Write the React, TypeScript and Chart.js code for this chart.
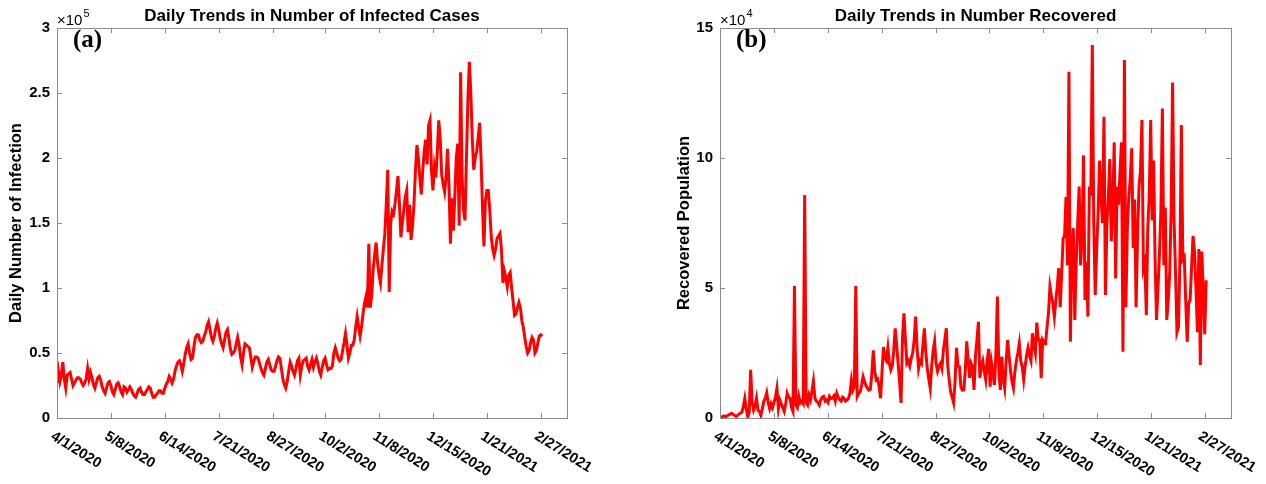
import React, { useEffect, useRef } from 'react';
import { Chart, registerables } from 'chart.js';

Chart.register(...registerables);

// Day 0 of both series
const startDate = '2020-04-01';

// Date ticks on the x axis
const tickDates = [
  '2020-04-01', '2020-05-08', '2020-06-14', '2020-07-21', '2020-08-27',
  '2020-10-02', '2020-11-08', '2020-12-15', '2021-01-21', '2021-02-27',
];
const xMaxDay = 350;

// Daily new infections, in thousands (day 0 = 4/1/2020)
const infectedThousands = [
  27, 36, 28, 33, 43, 30, 23, 33, 34, 35, 30,
  25, 27, 29, 31, 31, 30, 27, 25, 27, 30,
  38, 30, 35, 31, 26, 23, 27, 31, 32, 29,
  24, 21, 19, 23, 27, 28, 25, 20, 18, 22,
  26, 27, 24, 20, 18, 24, 23, 20, 22, 24,
  22, 19, 17, 16, 19, 22, 23, 20, 18, 18,
  20, 22, 24, 23, 19, 16, 16, 18, 19, 21,
  21, 19, 19, 23, 26, 28, 32, 30, 27, 30,
  36, 40, 43, 44, 41, 36, 42, 49, 54, 57,
  50, 45, 46, 55, 62, 64, 64, 60, 58, 59,
  63, 66, 71, 74, 68, 62, 59, 63, 69, 73,
  68, 61, 57, 54, 60, 66, 68, 61, 53, 49,
  50, 52, 57, 62, 56, 47, 41, 50, 57, 56,
  55, 54, 47, 39, 43, 47, 47, 46, 42, 38,
  35, 33, 38, 43, 45, 41, 37, 36, 36, 40,
  44, 47, 46, 38, 30, 26, 23, 28, 36, 43,
  40, 36, 33, 38, 44, 46, 33, 40, 44, 45,
  46, 40, 37, 41, 45, 39, 43, 46, 42, 36,
  33, 39, 44, 46, 41, 37, 38, 38, 40, 50,
  54, 50, 46, 44, 45, 52, 58, 65, 56, 46,
  50, 56, 56, 60, 70, 78, 70, 63, 70, 80,
  88, 93, 85, 134, 85, 95, 115, 125, 135, 120,
  110, 104, 118, 130, 142, 165, 191, 97, 150, 159,
  157, 165, 175, 186, 165, 139, 150, 160, 170, 175,
  143, 164, 137, 148, 165, 190, 210, 200, 185, 172,
  190, 205, 214, 195, 225, 229, 190, 175, 193, 185,
  205, 229, 215, 187, 180, 174, 185, 207, 180, 134,
  169, 144, 170, 200, 211, 148, 266, 185, 160, 152,
  200, 245, 274, 250, 215, 191, 200, 205, 215, 227,
  200, 162, 132, 167, 175, 175, 160, 140, 130, 125,
  130, 138, 140, 142, 130, 104, 113, 108, 101, 110,
  112, 100, 90, 79, 80, 85, 89, 85, 75, 70,
  62, 55, 50, 52, 58, 62, 60, 50, 52, 58,
  63, 64, 63,
];

// Daily recoveries, in thousands (day 0 = 4/1/2020)
const recoveredThousands = [
  0.5, 0.3, 0.6, 0.8, 0.5, 0.9, 1.2, 1.5, 1.8, 1.4, 1.0,
  0.6, 1.0, 1.5, 1.9, 2.2, 4.5, 7.6, 3.5, 0.5, 2.0,
  18.5, 6.0, 3.0, 4.5, 7.6, 3.0, 2.5, 1.0, 3.5, 6.4,
  7.5, 9.7, 6.0, 3.6, 5.5, 4.0, 6.0, 8.0, 11.4, 3.6,
  6.9, 5.5, 4.0, 2.5, 5.5, 9.5, 8.0, 7.6, 4.0, 2.5,
  50.8, 5.0, 4.0, 8.3, 5.8, 6.5, 5.5, 85.8, 6.0, 5.0,
  8.8, 7.0, 10.5, 14.2, 7.6, 6.5, 6.0, 5.0, 7.0, 8.0,
  8.3, 6.5, 7.0, 6.0, 8.3, 7.5, 7.6, 8.5, 6.5, 9.5,
  8.0, 7.0, 6.5, 8.0, 7.6, 6.5, 7.0, 7.5, 9.5, 14.6,
  10.7, 12.0, 50.8, 8.3, 9.5, 10.0, 12.5, 15.9, 14.0, 12.5,
  11.5, 10.7, 11.0, 17.0, 26.0, 18.0, 14.6, 15.0, 12.0, 7.6,
  18.0, 27.3, 23.0, 22.0, 27.0, 21.0, 18.5, 20.0, 26.0, 34.5,
  28.0, 21.0, 14.0, 5.8, 30.7, 40.3, 30.0, 21.0, 22.0, 20.0,
  23.0, 25.0, 30.0, 39.0, 27.0, 19.0, 22.0, 21.0, 28.0, 34.5,
  25.0, 19.0, 15.0, 11.4, 20.0, 26.0, 29.5, 21.0, 18.0, 20.0,
  21.0, 19.0, 26.0, 30.0, 34.5, 20.0, 14.6, 10.0, 8.0, 5.8,
  14, 27, 20, 19.7, 12, 10.7, 10.8, 18, 29.5, 22,
  15.4, 21, 19.7, 10.8, 24, 30, 37, 15.4, 20, 22,
  18, 14.7, 22, 26.6, 12, 21, 17, 12.7, 25, 46.7,
  18, 10.8, 23.6, 15, 11.5, 22, 30, 24, 18, 14,
  11.5, 18, 22, 25, 28.7, 22, 19.7, 14.7, 20, 24,
  27, 24, 22, 32.6, 28, 24.9, 36.7, 30, 30, 15.3,
  30, 29, 28.7, 35, 40.4, 50.5, 47, 44, 39, 45,
  50.5, 57.6, 42.6, 55, 69, 70, 85, 58.8, 133.2, 29.3,
  64, 73, 37.7, 60, 75, 89, 58.8, 70, 101, 45.4,
  60, 39, 89, 85.6, 143.5, 74.9, 47.3, 65, 79, 99,
  85, 74.9, 115.9, 47.3, 74.9, 85, 99.6, 68, 80, 106,
  53.7, 89, 82, 95, 106, 25.5, 137.7, 42.6, 73, 85,
  92, 103.7, 65.4, 84, 42.6, 70, 89, 95, 114.6, 57.6,
  60, 39.6, 73, 85, 114.6, 76, 99, 61, 37.7, 50,
  63, 80, 119, 58.8, 81, 37.7, 45, 55.6, 80, 129,
  76, 56, 33, 35, 60, 112.7, 61, 62, 45, 29.3,
  44, 45.4, 58, 70, 64, 50, 33, 65, 20.4, 64,
  48.7, 32.2, 53,
];

// Y-axis ticks (values) and their labels (shown with a power-of-ten multiplier)
const infectedTicks = [0, 50000, 100000, 150000, 200000, 250000, 300000];
const infectedTickLabels = ['0', '0.5', '1', '1.5', '2', '2.5', '3'];
const recoveredTicks = [0, 50000, 100000, 150000];
const recoveredTickLabels = ['0', '5', '10', '15'];

const SANS = '"Liberation Sans", Arial, Helvetica, sans-serif';
const SERIF = '"Liberation Serif", "Times New Roman", serif';
const AXIS_COLOR = '#8c8c8c';
const LINE_COLOR = '#ff0000';

const dayOf = (iso: string) =>
  Math.round((Date.parse(iso) - Date.parse(startDate)) / 86400000);
const dateLabel = (iso: string) => {
  const [y, m, d] = iso.split('-').map(Number);
  return `${m}/${d}/${y}`;
};

// MATLAB-style box axes: inward ticks on all sides, rotated date labels,
// title, y label, exponent and panel tag.
const boxAxes = {
  id: 'boxAxes',
  afterDraw(chart: any, _args: any, opts: any) {
    const { ctx, chartArea: a } = chart;
    const xs = chart.scales.x;
    const ys = chart.scales.y;
    ctx.save();

    ctx.strokeStyle = AXIS_COLOR;
    ctx.lineWidth = 1;
    ctx.beginPath();
    const tl = 5;
    for (const iso of tickDates) {
      const px = Math.round(xs.getPixelForValue(dayOf(iso))) + 0.5;
      ctx.moveTo(px, a.bottom);
      ctx.lineTo(px, a.bottom - tl);
      ctx.moveTo(px, a.top);
      ctx.lineTo(px, a.top + tl);
    }
    for (const v of opts.yTicks) {
      const py = Math.round(ys.getPixelForValue(v)) + 0.5;
      ctx.moveTo(a.left, py);
      ctx.lineTo(a.left + tl, py);
      ctx.moveTo(a.right, py);
      ctx.lineTo(a.right - tl, py);
    }
    ctx.stroke();
    ctx.strokeRect(a.left + 0.5, a.top + 0.5, a.right - a.left, a.bottom - a.top);

    ctx.fillStyle = '#000';

    // y tick labels
    ctx.font = `bold 15px ${SANS}`;
    ctx.textAlign = 'right';
    ctx.textBaseline = 'middle';
    opts.yTicks.forEach((v: number, i: number) => {
      ctx.fillText(opts.yLabels[i], a.left - 7, ys.getPixelForValue(v));
    });

    // rotated date labels
    ctx.font = `bold 14.5px ${SANS}`;
    ctx.textAlign = 'left';
    ctx.textBaseline = 'middle';
    for (const iso of tickDates) {
      const px = xs.getPixelForValue(dayOf(iso));
      ctx.save();
      ctx.translate(px - 5, a.bottom + 17);
      ctx.rotate((32 * Math.PI) / 180);
      ctx.fillText(dateLabel(iso), 0, 0);
      ctx.restore();
    }

    // title
    ctx.font = `bold 17px ${SANS}`;
    ctx.textAlign = 'center';
    ctx.textBaseline = 'alphabetic';
    ctx.fillText(opts.title, (a.left + a.right) / 2, 21);

    // y axis title
    ctx.font = `bold 16.5px ${SANS}`;
    ctx.save();
    ctx.translate(opts.yTitleX, (a.top + a.bottom) / 2);
    ctx.rotate(-Math.PI / 2);
    ctx.textBaseline = 'middle';
    ctx.fillText(opts.yTitle, 0, 0);
    ctx.restore();

    // exponent multiplier
    ctx.textAlign = 'left';
    ctx.textBaseline = 'alphabetic';
    ctx.font = `15px ${SANS}`;
    const base = '\u00d710';
    ctx.fillText(base, a.left, 25);
    const bw = ctx.measureText(base).width;
    ctx.font = `11px ${SANS}`;
    ctx.fillText(opts.exponent, a.left + bw + 1, 17);

    // panel tag
    ctx.font = `bold 25px ${SERIF}`;
    ctx.fillText(opts.tag, a.left + 16, 47);

    ctx.restore();
  },
};

type PanelSpec = {
  width: number;
  left: number;
  padding: { left: number; right: number; top: number; bottom: number };
  values: number[];
  yMax: number;
  yTicks: number[];
  yLabels: string[];
  title: string;
  yTitle: string;
  yTitleX: number;
  exponent: string;
  tag: string;
};

const panels: PanelSpec[] = [
  {
    width: 633,
    left: 0,
    padding: { left: 57, right: 66, top: 28, bottom: 66 },
    values: infectedThousands,
    yMax: 300000,
    yTicks: infectedTicks,
    yLabels: infectedTickLabels,
    title: 'Daily Trends in Number of Infected Cases',
    yTitle: 'Daily Number of Infection',
    yTitleX: 16,
    exponent: '5',
    tag: '(a)',
  },
  {
    width: 633,
    left: 633,
    padding: { left: 87, right: 35, top: 28, bottom: 66 },
    values: recoveredThousands,
    yMax: 150000,
    yTicks: recoveredTicks,
    yLabels: recoveredTickLabels,
    title: 'Daily Trends in Number Recovered',
    yTitle: 'Recovered Population',
    yTitleX: 51,
    exponent: '4',
    tag: '(b)',
  },
];

function Panel({ spec }: { spec: PanelSpec }) {
  const ref = useRef<HTMLCanvasElement | null>(null);
  useEffect(() => {
    if (!ref.current) return;
    const chart = new Chart(ref.current, {
      type: 'line',
      data: {
        datasets: [
          {
            data: spec.values.map((v, i) => ({ x: i, y: v * 1000 })),
            borderColor: LINE_COLOR,
            borderWidth: 3,
            pointRadius: 0,
            tension: 0,
            fill: false,
          },
        ],
      },
      options: {
        animation: false,
        responsive: false,
        devicePixelRatio: 1,
        layout: { padding: spec.padding },
        plugins: {
          legend: { display: false },
          tooltip: { enabled: false },
          boxAxes: {
            yTicks: spec.yTicks,
            yLabels: spec.yLabels,
            title: spec.title,
            yTitle: spec.yTitle,
            yTitleX: spec.yTitleX,
            exponent: spec.exponent,
            tag: spec.tag,
          },
        } as any,
        scales: {
          x: { type: 'linear', min: 0, max: xMaxDay, display: false },
          y: { type: 'linear', min: 0, max: spec.yMax, display: false },
        },
      },
      plugins: [boxAxes],
    });
    return () => chart.destroy();
  }, [spec]);
  return (
    <canvas
      ref={ref}
      width={spec.width}
      height={484}
      style={{ position: 'absolute', left: spec.left, top: 0, width: spec.width, height: 484 }}
    />
  );
}

export default function App() {
  return (
    <div style={{ position: 'absolute', left: 0, top: 0, width: 1266, height: 484, background: '#fff' }}>
      {panels.map((p) => (
        <Panel key={p.tag} spec={p} />
      ))}
    </div>
  );
}
